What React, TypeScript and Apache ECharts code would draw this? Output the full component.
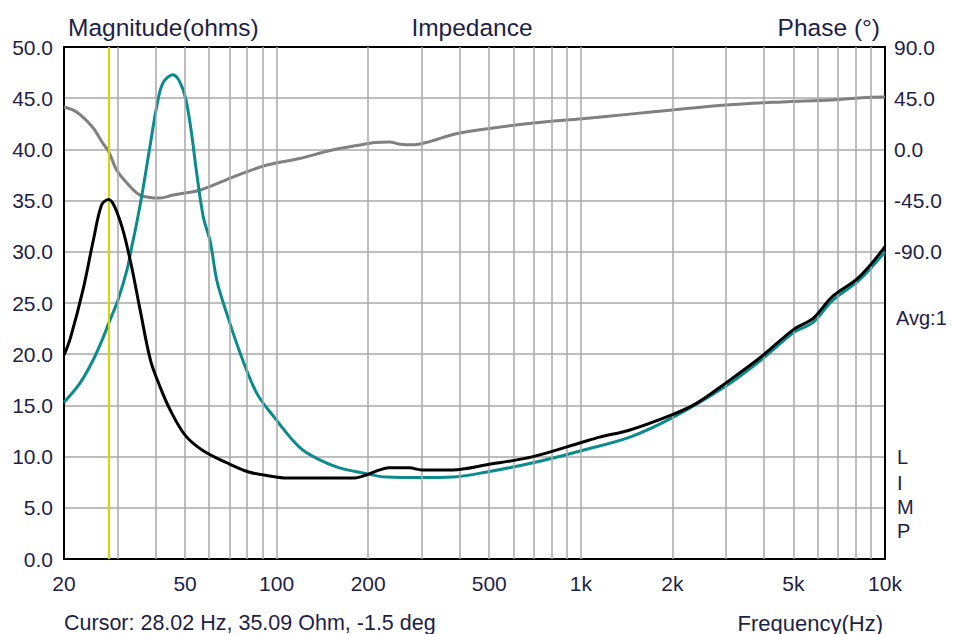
import React, { useEffect, useRef } from "react";
import * as echarts from "echarts";

// ---- data (frequency in Hz, magnitude in ohms, phase in degrees) ----
const X_TICKS = [20, 50, 100, 200, 500, 1000, 2000, 5000, 10000];
const X_GRID = [30, 40, 50, 60, 70, 80, 90, 100, 200, 300, 400, 500, 600, 700, 800, 900, 1000, 2000, 3000, 4000, 5000, 6000, 7000, 8000, 9000];
const CURSOR_HZ = 28.02;

const blackFreq = [20, 21, 23.1, 25.0, 26.6, 28.0, 30.5, 33.0, 35.6, 38.5, 41.4, 44.6, 50, 57.2, 68.6, 81, 95, 108, 138, 178, 197, 218, 234, 273, 300, 379, 491, 697, 1010, 1154, 1450, 2000, 2400, 3000, 3900, 5000, 5800, 6700, 8200, 10000];
const blackOhm = [19.9, 21.6, 26.3, 31.2, 34.6, 35.1, 33.1, 29.2, 24.3, 19.4, 16.8, 14.6, 12.1, 10.6, 9.4, 8.5, 8.1, 7.9, 7.9, 7.9, 8.2, 8.7, 8.9, 8.9, 8.7, 8.7, 9.2, 10.0, 11.4, 11.9, 12.6, 14.1, 15.2, 17.2, 19.7, 22.4, 23.5, 25.6, 27.5, 30.5];

const tealFreq = [20, 22.6, 24.9, 26.7, 28.3, 30.1, 32.2, 33.4, 34.3, 36.0, 38.3, 40.3, 42.3, 45.6, 49.3, 51.9, 54.6, 57.4, 60.5, 63.6, 68.5, 75.9, 86, 97.9, 119, 138, 161, 192, 230, 300, 379, 491, 697, 1010, 1450, 2000, 3000, 3900, 5000, 5800, 6700, 8200, 10000];
const tealOhm = [15.3, 17.2, 19.4, 21.4, 23.3, 25.3, 28.2, 30.5, 32.1, 35.4, 40.2, 44.1, 46.5, 47.3, 45.8, 42.6, 37.7, 33.4, 31.0, 27.2, 24.0, 20.1, 16.2, 13.9, 10.9, 9.7, 8.9, 8.4, 8.0, 7.95, 8.0, 8.5, 9.4, 10.6, 11.9, 13.8, 16.9, 19.4, 22.1, 23.1, 25.2, 27.2, 30.0];

const phaseFreq = [20, 22.0, 24.8, 26.8, 28.0, 29.8, 32.2, 35.6, 41.4, 45.7, 56.2, 71.8, 93, 119, 150, 188, 210, 235, 255, 280, 310, 400, 697, 1010, 1450, 2000, 3000, 4600, 6700, 8400, 10000];
const phaseDeg = [37.3, 32.9, 19.7, 5.6, -1.5, -18.1, -29.5, -40.1, -42.7, -40.1, -35.7, -24.3, -13.7, -8, -1, 3.9, 6, 6.5, 4.5, 4, 6, 14.4, 23.2, 27, 31, 34.6, 39.0, 41.7, 43.4, 45.5, 46];

const FONT = "'Liberation Sans', Arial, sans-serif";
const TEXT = "#1e1e46";
const GRID_COLOR = "#a8a8a8";

const zip = (a: number[], b: number[]) => a.map((v, i) => [v, b[i]]);

const fmtHz = (v: number) => {
  const r = Math.round(v);
  return r >= 1000 ? r / 1000 + "k" : String(r);
};

export default function App() {
  const ref = useRef<HTMLDivElement>(null);
  useEffect(() => {
    if (!ref.current) return;
    const chart = echarts.init(ref.current, null, { renderer: "svg" });
    const textStyle = (text: string, x: number, y: number, size: number, align = "left") => ({
      type: "text",
      x,
      y,
      silent: true,
      style: {
        text,
        fill: TEXT,
        fontSize: size,
        fontFamily: FONT,
        align,
        textAlign: align,
        verticalAlign: "middle",
        textVerticalAlign: "middle",
      },
    });
    chart.setOption({
      animation: false,
      backgroundColor: "#ffffff",
      grid: { left: 64, right: 68, top: 47, bottom: 75, containLabel: false },
      xAxis: [
        {
          type: "log",
          logBase: 10,
          min: 20,
          max: 10000,
          axisLine: { show: true, onZero: false, lineStyle: { color: "#000", width: 2 } },
          axisTick: { show: false },
          splitLine: { show: false },
          minorTick: { show: false },
          axisLabel: {
            customValues: X_TICKS,
            formatter: (v: number) => fmtHz(v),
            color: TEXT,
            fontSize: 21,
            fontFamily: FONT,
            margin: 14,
          },
        },
        {
          type: "log",
          logBase: 10,
          min: 20,
          max: 10000,
          position: "top",
          axisLine: { show: true, onZero: false, lineStyle: { color: "#000", width: 2 } },
          axisTick: { show: false },
          splitLine: { show: false },
          axisLabel: { show: false },
        },
      ],
      yAxis: [
        {
          type: "value",
          min: 0,
          max: 50,
          interval: 5,
          position: "left",
          axisLine: { show: true, onZero: false, lineStyle: { color: "#000", width: 2 } },
          axisTick: { show: false },
          splitLine: { show: true, showMinLine: false, showMaxLine: false, lineStyle: { color: GRID_COLOR, width: 1.5 } },
          axisLabel: {
            formatter: (v: number) => v.toFixed(1),
            color: TEXT,
            fontSize: 21,
            fontFamily: FONT,
            margin: 11,
          },
        },
        {
          type: "value",
          min: -360,
          max: 90,
          interval: 45,
          position: "right",
          axisLine: { show: true, onZero: false, lineStyle: { color: "#000", width: 2 } },
          axisTick: { show: false },
          splitLine: { show: false },
          axisLabel: {
            formatter: (v: number) => (v >= -90 ? v.toFixed(1) : ""),
            color: TEXT,
            fontSize: 21,
            fontFamily: FONT,
            margin: 9,
          },
        },
      ],
      series: [
        {
          name: "grid",
          type: "line",
          xAxisIndex: 0,
          yAxisIndex: 0,
          z: 1,
          silent: true,
          showSymbol: false,
          data: [[20, null]],
          markLine: {
            silent: true,
            symbol: ["none", "none"],
            label: { show: false },
            lineStyle: { color: GRID_COLOR, width: 1.5, type: "solid" },
            data: X_GRID.map((v) => ({ xAxis: v })),
          },
        },
        {
          name: "cursor",
          type: "line",
          xAxisIndex: 0,
          yAxisIndex: 0,
          z: 2,
          silent: true,
          showSymbol: false,
          data: [[20, null]],
          markLine: {
            silent: true,
            symbol: ["none", "none"],
            label: { show: false },
            lineStyle: { color: "#d6d600", width: 2, type: "solid" },
            data: [{ xAxis: CURSOR_HZ }],
          },
        },
        {
          name: "Phase",
          type: "line",
          xAxisIndex: 0,
          yAxisIndex: 1,
          z: 3,
          showSymbol: false,
          smooth: 0.35,
          lineStyle: { color: "#808080", width: 3 },
          data: zip(phaseFreq, phaseDeg),
        },
        {
          name: "Teal",
          type: "line",
          xAxisIndex: 0,
          yAxisIndex: 0,
          z: 4,
          showSymbol: false,
          smooth: 0.35,
          lineStyle: { color: "#0b8b8b", width: 3 },
          data: zip(tealFreq, tealOhm),
        },
        {
          name: "Black",
          type: "line",
          xAxisIndex: 0,
          yAxisIndex: 0,
          z: 5,
          showSymbol: false,
          smooth: 0.35,
          lineStyle: { color: "#000000", width: 3 },
          data: zip(blackFreq, blackOhm),
        },
      ],
      graphic: [
        textStyle("Magnitude(ohms)", 68, 27, 24.5),
        textStyle("Impedance", 472, 27, 24.5, "center"),
        textStyle("Phase (°)", 880, 27, 24.5, "right"),
        textStyle("Avg:1", 896, 318, 20),
        textStyle("L", 897, 457, 20),
        textStyle("I", 897, 483, 20),
        textStyle("M", 897, 507, 20),
        textStyle("P", 897, 531, 20),
        textStyle("Cursor: 28.02 Hz, 35.09 Ohm, -1.5 deg", 64, 623, 21.5),
        textStyle("Frequency(Hz)", 883, 623, 22, "right"),
      ],
    });
    return () => chart.dispose();
  }, []);
  return (
    <div
      ref={ref}
      style={{ position: "fixed", left: 0, top: 0, width: 953, height: 634, background: "#fff" }}
    />
  );
}
